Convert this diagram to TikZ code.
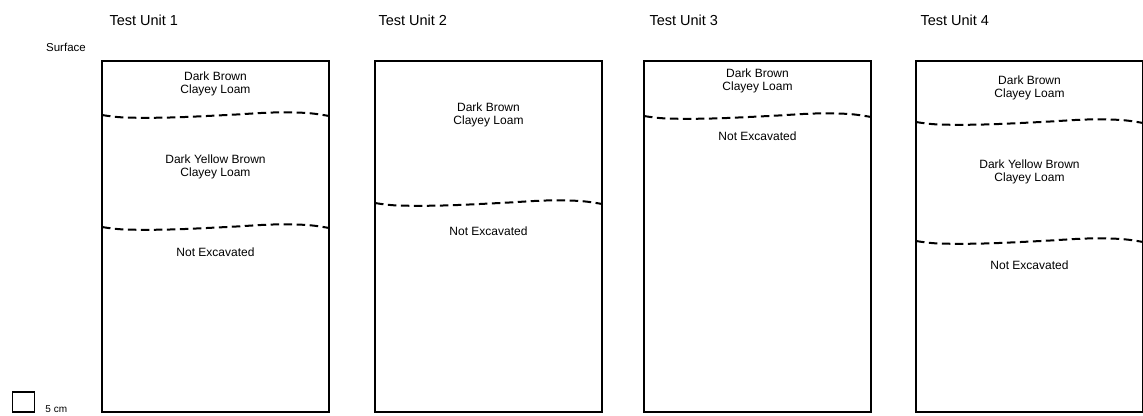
\documentclass[tikz,border=0pt]{standalone}
\usepackage{fontspec}
\setmainfont{Liberation Sans}
\usetikzlibrary{positioning}
\tikzset{
  unitbox/.style ={draw, line width=1.8pt, minimum width=227pt,
                   minimum height=351pt, inner sep=0pt},
  title/.style   ={font=\fontsize{14.5}{16}\selectfont, anchor=base west},
  soil/.style    ={font=\fontsize{12}{13}\selectfont, align=center,
                   inner sep=0pt},
  small/.style   ={font=\fontsize{10}{12}\selectfont, inner sep=0pt},
  horiz/.style   ={line width=2pt, dash pattern=on 8.5pt off 4.5pt},
  scalesq/.style ={draw, line width=1.5pt, minimum width=22pt,
                   minimum height=20pt, inner sep=0pt},
}
% wavy layer boundary across a unit: #1 left x, #2 y
\newcommand{\horizon}[2]{%
  \draw[horiz] plot[smooth, tension=0.6] coordinates
    {({#1},{#2}) ({#1+23},{#2+2.5}) ({#1+68},{#2+2.5}) ({#1+125},{#2})
     ({#1+171},{#2-2.5}) ({#1+205},{#2-2}) ({#1+227},{#2+1})};}

\begin{document}
\begin{tikzpicture}[x=1pt, y=-1pt]
  \useasboundingbox (0,0) rectangle (1143,415);

  % the four test units
  \node[unitbox] (tu1) at (215.5,236.5) {};
  \node[unitbox] (tu2) at (488.5,236.5) {};
  \node[unitbox] (tu3) at (757.5,236.5) {};
  \node[unitbox] (tu4) at (1029.5,236.5) {};

  \node[title] (t1) at (106,25) {Test Unit 1};
  \node[title] (t2) at (375,25) {Test Unit 2};
  \node[title] (t3) at (646,25) {Test Unit 3};
  \node[title] (t4) at (917,25) {Test Unit 4};

  \node[small, anchor=east, font=\fontsize{11.5}{13}\selectfont] (surf)
    at (86,47) {Surface};

  % unit 1
  \node[soil] (s11) at (215.5,84) {Dark Brown\\Clayey Loam};
  \horizon{102}{115}
  \node[soil] (s12) at (215.5,167) {Dark Yellow Brown\\Clayey Loam};
  \horizon{102}{227}
  \node[soil] (s13) at (215.5,252) {Not Excavated};

  % unit 2
  \node[soil] (s21) at (488.5,115) {Dark Brown\\Clayey Loam};
  \horizon{375}{203}
  \node[soil] (s22) at (488.5,231) {Not Excavated};

  % unit 3
  \node[soil] (s31) at (757.5,81) {Dark Brown\\Clayey Loam};
  \horizon{644}{116}
  \node[soil] (s32) at (757.5,136) {Not Excavated};

  % unit 4
  \node[soil] (s41) at (1029.5,88) {Dark Brown\\Clayey Loam};
  \horizon{916}{122}
  \node[soil] (s42) at (1029.5,172) {Dark Yellow Brown\\Clayey Loam};
  \horizon{916}{241}
  \node[soil] (s43) at (1029.5,265) {Not Excavated};

  % scale
  \node[scalesq] (sq) at (23.5,402) {};
  \node[small, anchor=south west] (cm) at ([xshift=10pt]sq.south east) {5 cm};
\end{tikzpicture}
\end{document}
